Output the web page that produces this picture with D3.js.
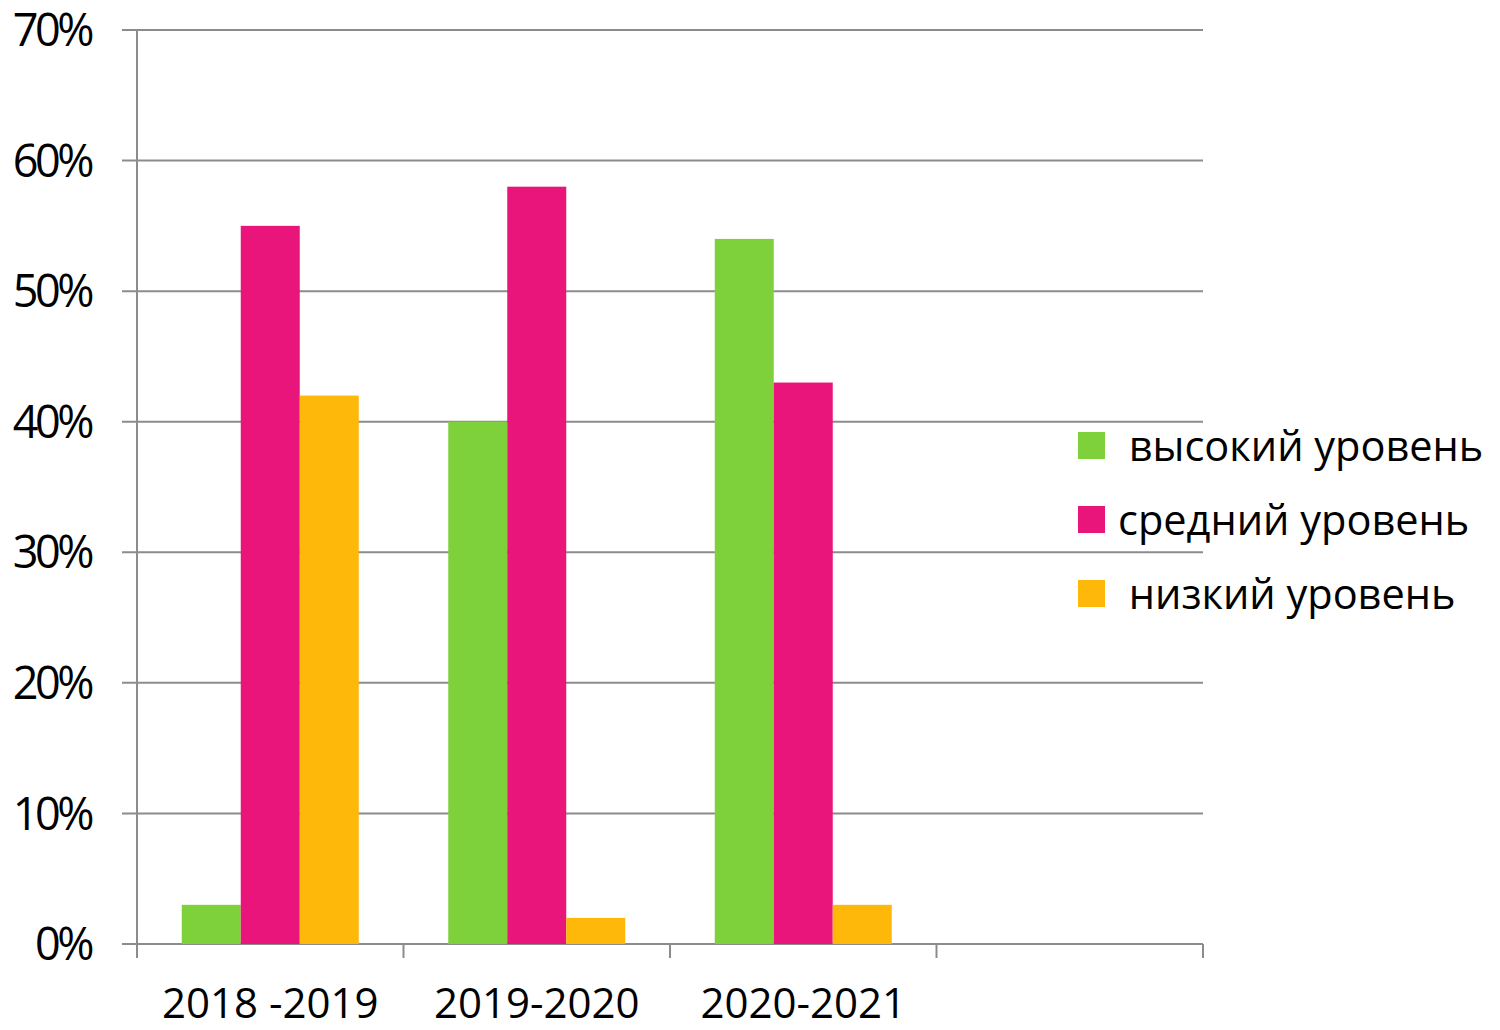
<!DOCTYPE html>
<html>
<head>
<meta charset="utf-8">
<script src="https://cdn.jsdelivr.net/npm/d3@7"></script>
<style>
  body { margin: 0; background: #fff; }
  text { font-family: "Open Sans", "Noto Sans", sans-serif; fill: #000; }
</style>
</head>
<body>
<svg id="chart" width="1500" height="1030"></svg>
<script>
// data
const categories = ['2018 -2019', '2019-2020', '2020-2021', ''];
const seriesNames = [' высокий уровень', 'средний уровень', ' низкий уровень'];
const high = [3, 40, 54, null];
const mid = [55, 58, 43, null];
const low = [42, 2, 3, null];
const yTicks = [0, 10, 20, 30, 40, 50, 60, 70];
const colors = ['#7fd13b', '#ea157a', '#feb80a'];

const seriesValues = [high, mid, low];

const margin = { top: 30, right: 297, bottom: 86, left: 137 };
const width = 1500 - margin.left - margin.right;
const height = 1030 - margin.top - margin.bottom;

const svg = d3.select('#chart');
const g = svg.append('g').attr('transform', `translate(${margin.left},${margin.top})`);

const x = d3.scaleBand().domain(d3.range(categories.length)).range([0, width]);
const y = d3.scaleLinear().domain([0, 70]).range([height, 0]);

// bars sit in the middle of each band
const barW = 59;
const groupOffset = (x.bandwidth() - barW * seriesNames.length) / 2;

// gridlines
g.append('g')
  .selectAll('line')
  .data(yTicks)
  .enter()
  .append('line')
  .attr('x1', -15)
  .attr('x2', width)
  .attr('y1', d => y(d))
  .attr('y2', d => y(d))
  .attr('stroke', '#8c8c8c')
  .attr('stroke-width', 2);

// y labels
g.append('g')
  .selectAll('text')
  .data(yTicks)
  .enter()
  .append('text')
  .attr('x', -46)
  .attr('y', d => y(d))
  .attr('dy', '0.36em')
  .attr('text-anchor', 'end')
  .style('font-size', '45px')
  .style('letter-spacing', '-3.5px')
  .text(d => d + '%');

// bars
seriesValues.forEach((vals, si) => {
  g.append('g')
    .selectAll('rect')
    .data(vals.map((v, i) => ({ v, i })).filter(d => d.v !== null))
    .enter()
    .append('rect')
    .attr('x', d => x(d.i) + groupOffset + si * barW)
    .attr('y', d => y(d.v))
    .attr('width', barW)
    .attr('height', d => height - y(d.v))
    .attr('fill', colors[si]);
});

// axes lines
g.append('line')
  .attr('x1', 0).attr('x2', 0)
  .attr('y1', 0).attr('y2', height + 14)
  .attr('stroke', '#8c8c8c').attr('stroke-width', 2);

g.append('g')
  .selectAll('line')
  .data(d3.range(categories.length + 1))
  .enter()
  .append('line')
  .attr('x1', d => d * x.bandwidth())
  .attr('x2', d => d * x.bandwidth())
  .attr('y1', height)
  .attr('y2', height + 14)
  .attr('stroke', '#8c8c8c')
  .attr('stroke-width', 2);

// category labels
g.append('g')
  .selectAll('text')
  .data(categories)
  .enter()
  .append('text')
  .attr('x', (d, i) => x(i) + x.bandwidth() / 2)
  .attr('y', height + 74)
  .attr('text-anchor', 'middle')
  .style('font-size', '42px')
  .style('white-space', 'pre')
  .text(d => d);

// legend
const legend = svg.append('g').attr('transform', 'translate(1078,432)');
const items = legend.selectAll('g')
  .data(seriesNames)
  .enter()
  .append('g')
  .attr('transform', (d, i) => `translate(0,${i * 74})`);

items.append('rect')
  .attr('width', 27)
  .attr('height', 27)
  .attr('fill', (d, i) => colors[i]);

items.append('text')
  .attr('x', 40)
  .attr('y', 14)
  .attr('dy', '0.35em')
  .style('font-size', '41.5px')
  .style('white-space', 'pre')
  .text(d => d);
</script>
</body>
</html>
